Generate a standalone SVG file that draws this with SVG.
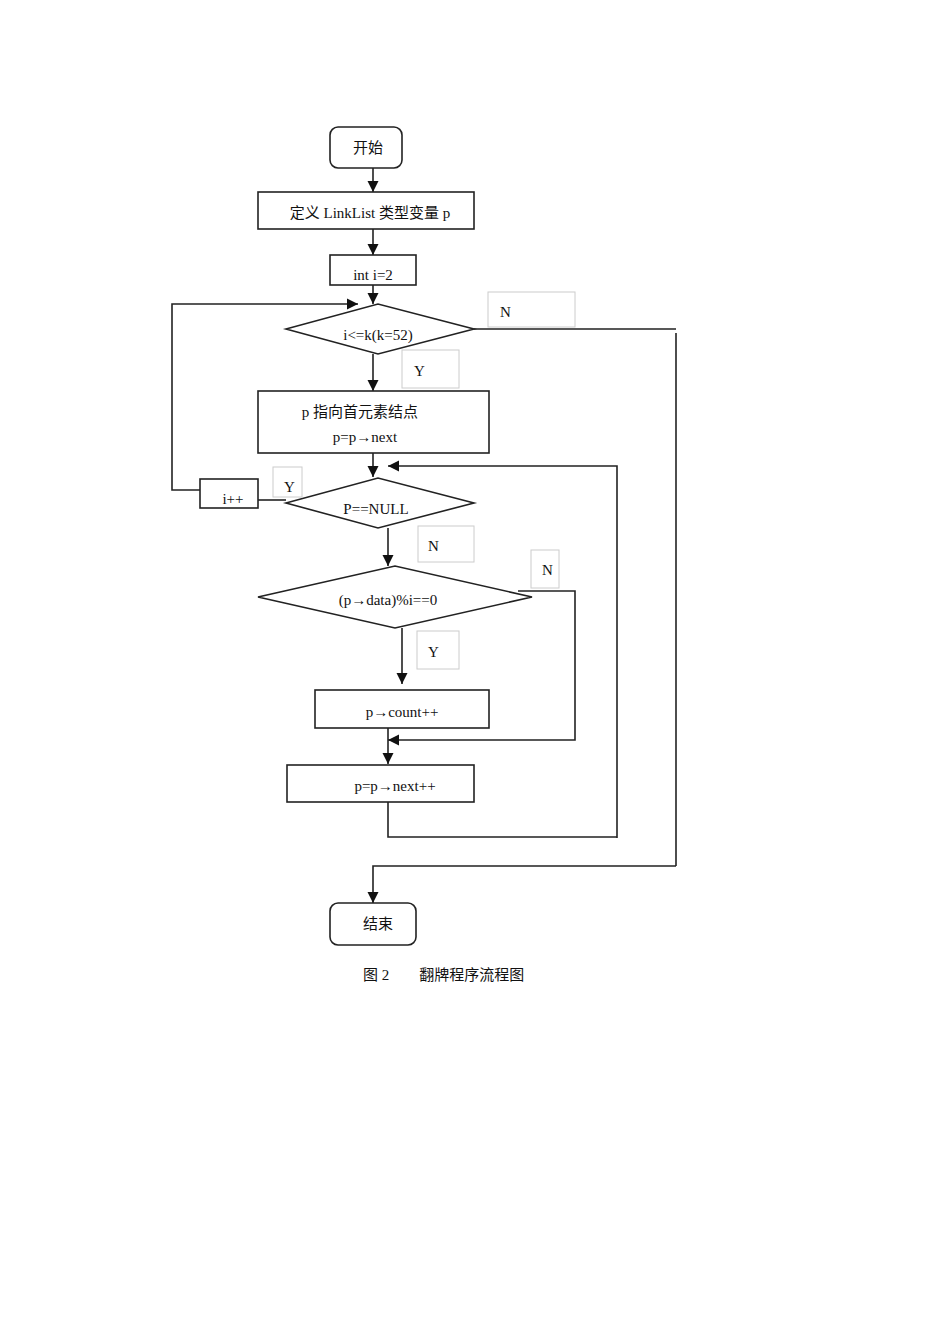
<svg xmlns="http://www.w3.org/2000/svg" width="950" height="1344" viewBox="0 0 950 1344">
<style>
.n{fill:#fff;stroke:#222;stroke-width:1.6}
.lb{fill:#fff;stroke:#ccc;stroke-width:1}
.c{fill:none;stroke:#222;stroke-width:1.6}
text{font-family:"Liberation Serif","Noto Sans CJK SC",serif;font-size:15px;fill:#111}
</style>
<defs><marker id="a" viewBox="0 0 10 10" refX="10" refY="5" markerWidth="7" markerHeight="7" orient="auto"><path d="M0,0L10,5L0,10z" fill="#111"/></marker></defs>
<rect width="950" height="1344" fill="#fff"/>
<g id="connectors">
<path class="c" d="M373,168V192" marker-end="url(#a)"/>
<path class="c" d="M373,229V255" marker-end="url(#a)"/>
<path class="c" d="M373,285V304" marker-end="url(#a)"/>
<path class="c" d="M474,329H676M676,333V866"/>
<path class="c" d="M373,354V391" marker-end="url(#a)"/>
<path class="c" d="M373,453V477" marker-end="url(#a)"/>
<path class="c" d="M617,838V466H388" marker-end="url(#a)"/>
<path class="c" d="M258,500H286"/>
<path class="c" d="M200,490H172V304H358" marker-end="url(#a)"/>
<path class="c" d="M388,528V566" marker-end="url(#a)"/>
<path class="c" d="M518,591H575V740H388" marker-end="url(#a)"/>
<path class="c" d="M402,628V684" marker-end="url(#a)"/>
<path class="c" d="M388,728V764" marker-end="url(#a)"/>
<path class="c" d="M388,802V837H617"/>
<path class="c" d="M676,866H373V903" marker-end="url(#a)"/>
</g>
<g id="start"><rect class="n" x="330" y="127" width="72" height="41" rx="8"/><text x="368" y="153" text-anchor="middle">开始</text></g>
<g id="define"><rect class="n" x="258" y="192" width="216" height="37"/><text x="370" y="218" text-anchor="middle">定义 LinkList 类型变量 p</text></g>
<g id="init"><rect class="n" x="330" y="255" width="86" height="30"/><text x="373" y="280" text-anchor="middle">int i=2</text></g>
<g id="cond1"><polygon class="n" points="286,329 378,304 474,329 378,354"/><text x="378" y="340" text-anchor="middle">i&lt;=k(k=52)</text></g>
<g id="lblN1"><rect class="lb" x="488" y="292" width="87" height="35"/><text x="500" y="317">N</text></g>
<g id="lblY1"><rect class="lb" x="402" y="350" width="57" height="38"/><text x="414" y="376">Y</text></g>
<g id="first"><rect class="n" x="258" y="391" width="231" height="62"/><text x="360" y="417" text-anchor="middle">p 指向首元素结点</text><text x="365" y="442" text-anchor="middle">p=p→next</text></g>
<g id="cond2"><polygon class="n" points="286,503 378,478 474,503 378,528"/><text x="376" y="514" text-anchor="middle">P==NULL</text></g>
<g id="inc"><rect class="n" x="200" y="479" width="58" height="29"/><text x="233" y="504" text-anchor="middle">i++</text></g>
<g id="lblY2"><rect class="lb" x="273" y="467" width="29" height="30"/><text x="284" y="492">Y</text></g>
<g id="lblN2"><rect class="lb" x="418" y="526" width="56" height="36"/><text x="428" y="551">N</text></g>
<g id="cond3"><polygon class="n" points="258,597 395,566 532,597 395,628"/><text x="388" y="605" text-anchor="middle">(p→data)%i==0</text></g>
<g id="lblN3"><rect class="lb" x="531" y="550" width="28" height="38"/><text x="542" y="575">N</text></g>
<g id="lblY3"><rect class="lb" x="417" y="631" width="42" height="38"/><text x="428" y="657">Y</text></g>
<g id="count"><rect class="n" x="315" y="690" width="174" height="38"/><text x="402" y="717" text-anchor="middle">p→count++</text></g>
<g id="next"><rect class="n" x="287" y="765" width="187" height="37"/><text x="395" y="791" text-anchor="middle">p=p→next++</text></g>
<g id="end"><rect class="n" x="330" y="903" width="86" height="42" rx="8"/><text x="378" y="929" text-anchor="middle">结束</text></g>
<text x="363" y="980">图 2　　翻牌程序流程图</text>
</svg>
